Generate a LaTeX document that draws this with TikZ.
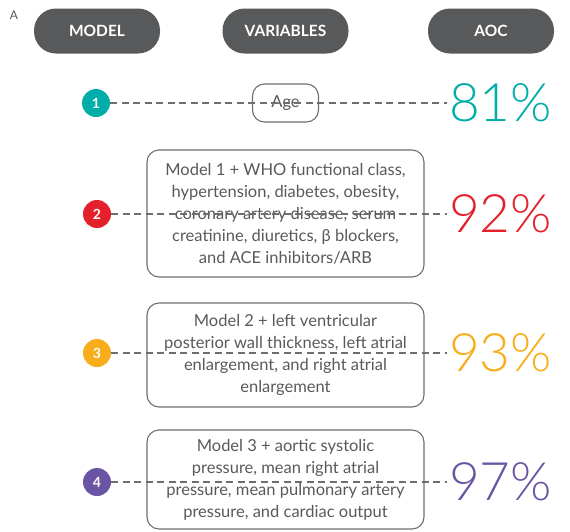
\documentclass[tikz,border=0pt]{standalone}
\usepackage{fontspec}
\setmainfont{Lato}
\newfontfamily\scorefont{Lato Light}
\definecolor{pillgray}{HTML}{58595B}
\definecolor{linegray}{HTML}{6D6E70}
\definecolor{txtgray}{HTML}{58595B}
\definecolor{mteal}{HTML}{00ADA8}
\definecolor{mred}{HTML}{E4202B}
\definecolor{myellow}{HTML}{F8AD1A}
\definecolor{mpurple}{HTML}{6A55A4}
\begin{document}
\begin{tikzpicture}[x=1pt,y=-1pt,
  pill/.style={fill=pillgray, rounded corners=22pt, minimum width=126pt,
    minimum height=45pt, inner sep=0pt, text=white,
    font=\bfseries\fontsize{15.5}{18}\selectfont},
  badge/.style={circle, fill=#1, minimum size=28pt, inner sep=0pt,
    text=white, font=\bfseries\fontsize{14}{16}\selectfont},
  varbox/.style={draw=linegray, line width=1.1pt, rounded corners=12pt,
    align=center, text=txtgray, minimum width=277pt, inner sep=0pt,
    font=\fontsize{16.5}{22}\selectfont},
  auc/.style={anchor=base west, inner sep=0pt, text=#1,
    font=\scorefont\fontsize{53}{60}\selectfont},
  link/.style={draw=linegray, line width=1.2pt, dash pattern=on 7pt off 4.5pt}]
\useasboundingbox (0,0) rectangle (570,531);

% panel letter
\node[text=txtgray, font=\fontsize{12}{14}\selectfont] (lbl) at (14,15) {A};

% column headers
\node[pill] (hmodel) at (97,31) {MODEL};
\node[pill] (hvar) at (285.5,31) {VARIABLES};
\node[pill] (hauc) at (491,31) {AOC};

% model 1
\node[badge=mteal] (b1) at (96,103) {1};
\node[varbox, minimum width=66pt, minimum height=38pt] (v1) at (285.5,103) {Age};
\node[auc=mteal] (p1) at (449,121) {81\%};

% model 2
\node[badge=mred] (b2) at (97,214) {2};
\node[varbox, minimum height=127pt] (v2) at (285.5,213.5) {Model 1 + WHO functional class,\\
  hypertension, diabetes, obesity,\\
  coronary artery disease, serum\\
  creatinine, diuretics, β blockers,\\
  and ACE inhibitors/ARB};
\node[auc=mred] (p2) at (449,232) {92\%};

% model 3
\node[badge=myellow] (b3) at (97,353) {3};
\node[varbox, minimum height=104pt] (v3) at (285.5,355) {Model 2 + left ventricular\\
  posterior wall thickness, left atrial\\
  enlargement, and right atrial\\
  enlargement};
\node[auc=myellow] (p3) at (449,371) {93\%};

% model 4
\node[badge=mpurple] (b4) at (97,482) {4};
\node[varbox, minimum height=99pt] (v4) at (285.5,479.5) {Model 3 + aortic systolic\\
  pressure, mean right atrial\\
  pressure, mean pulmonary artery\\
  pressure, and cardiac output};
\node[auc=mpurple] (p4) at (449,500) {97\%};

% dashed connectors from badge to score, running across the variable boxes
\foreach \i in {1,2,3,4}
  \draw[link] (b\i.east) -- ([xshift=-2pt]b\i.east -| p\i.west);
\end{tikzpicture}
\end{document}
